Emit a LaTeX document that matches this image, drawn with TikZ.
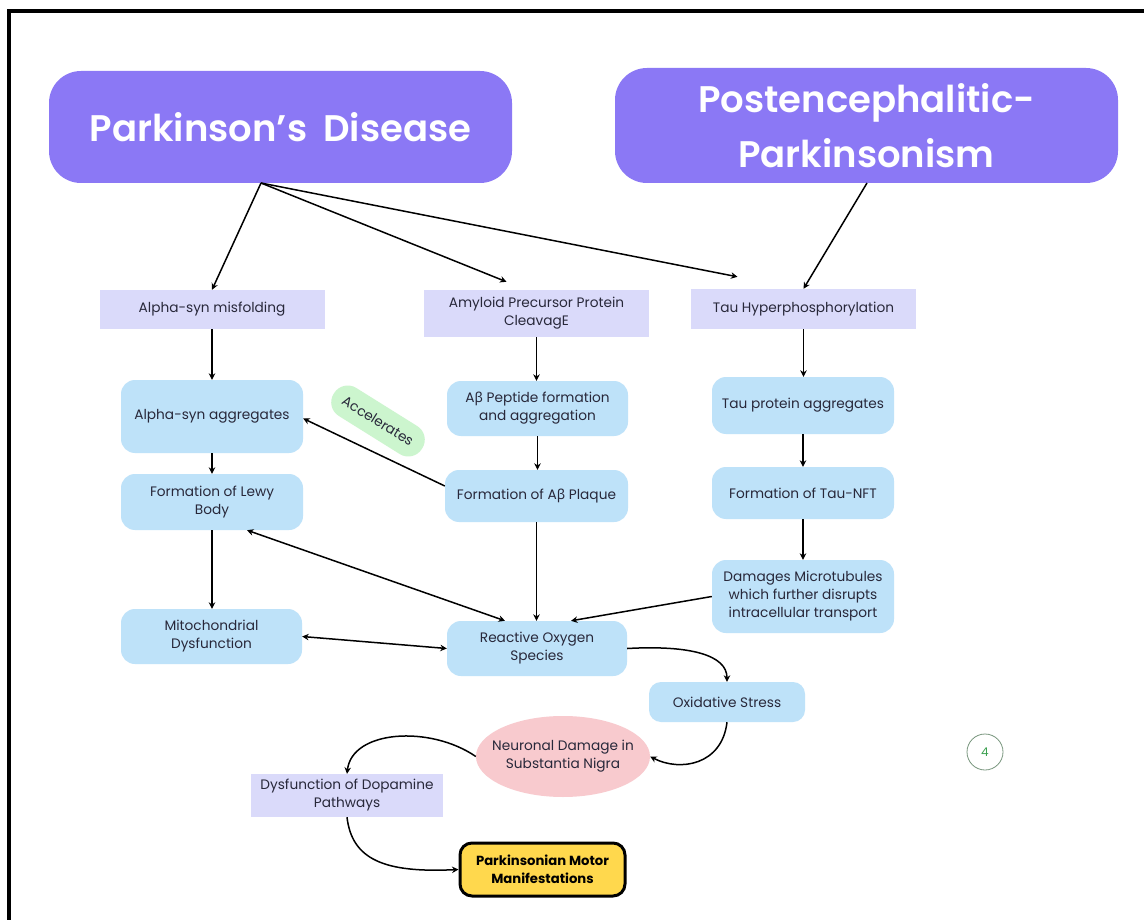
\documentclass[tikz,border=0pt]{standalone}
\usepackage{fontspec}
\setmainfont{Poppins}
\newfontfamily\hdrfam{Poppins}[UprightFont={* SemiBold}]
\newfontfamily\grk{Noto Sans}
\usetikzlibrary{shapes.geometric,arrows.meta,calc}
\definecolor{purp}{RGB}{139,120,245}
\definecolor{lavbox}{RGB}{218,218,250}
\definecolor{bluebox}{RGB}{190,226,249}
\definecolor{greenpill}{RGB}{204,245,206}
\definecolor{pinkel}{RGB}{248,202,206}
\definecolor{yel}{RGB}{255,216,77}
\definecolor{ink}{RGB}{40,40,58}
\definecolor{numgreen}{RGB}{60,160,80}
\definecolor{ringgray}{RGB}{120,150,125}
\newcommand{\bet}{{\grk β}}
\tikzset{
  txt/.style={text=ink, font=\fontsize{13.7}{18}\selectfont, align=center, inner sep=0pt},
  lav/.style={txt, fill=lavbox, rectangle},
  blu/.style={txt, fill=bluebox, rounded corners=14},
  hdrbox/.style={fill=purp, rounded corners=32, text=white, font=\hdrfam\fontsize{37}{55}\selectfont, align=center, inner sep=0pt},
  arr/.style={-{Stealth[length=6.5pt,width=6.5pt]}, line width=1.5pt, draw=black},
  darr/.style={{Stealth[length=6.5pt,width=6.5pt]}-{Stealth[length=6.5pt,width=6.5pt]}, line width=1.5pt, draw=black},
}
\begin{document}
\begin{tikzpicture}[x=1pt,y=-1pt]
\useasboundingbox (0,0) rectangle (1144,920);
\fill[white] (0,0) rectangle (1144,920);
\draw[line width=4pt] (9,922) -- (9,11) -- (1146,11);

% headers
\node[hdrbox, minimum width=463, minimum height=112] (pd) at (280.5,127) {Parkinson’s\hspace{0.2em} Disease};
\node[hdrbox, minimum width=503, minimum height=115] (ppp) at (866.5,125.5) {Postencephalitic-\\Parkinsonism};

% first row
\node[lav, minimum width=225, minimum height=39] (ms) at (212,309.5) {Alpha-syn misfolding};
\node[lav, minimum width=225, minimum height=47] (app) at (536.5,313.5) {Amyloid Precursor Protein\\CleavagE};
\node[lav, minimum width=225, minimum height=40] (th) at (803.5,309) {Tau Hyperphosphorylation};

% second row
\node[blu, minimum width=182, minimum height=73] (asa) at (212,416.5) {Alpha-syn aggregates};
\node[blu, minimum width=181, minimum height=55] (abp) at (537.5,408.5) {A\bet{} Peptide formation\\and aggregation};
\node[blu, minimum width=182, minimum height=57] (tpa) at (803,405.5) {Tau protein aggregates};

% third row
\node[blu, minimum width=182, minimum height=56] (lb) at (212,502) {Formation of Lewy\\Body};
\node[blu, minimum width=183, minimum height=52] (pl) at (536.5,496) {Formation of A\bet{} Plaque};
\node[blu, minimum width=182, minimum height=52] (nft) at (803,493) {Formation of Tau-NFT};

\node[blu, minimum width=182, minimum height=73] (dm) at (803,596.5) {Damages Microtubules\\which further disrupts\\intracellular transport};
\node[blu, minimum width=181, minimum height=55] (mito) at (211.5,636.5) {Mitochondrial\\Dysfunction};
\node[blu, minimum width=180, minimum height=55] (ros) at (537,648.5) {Reactive Oxygen\\Species};
\node[blu, rounded corners=12, minimum width=156, minimum height=40] (ox) at (727,702) {Oxidative Stress};
\node[txt, ellipse, fill=pinkel, inner sep=-10pt, minimum width=174, minimum height=81] (ne) at (563,756.5) {Neuronal Damage in\\Substantia Nigra};
\node[lav, minimum width=192, minimum height=43] (dd) at (347,795.5) {Dysfunction of Dopamine\\Pathways};
\node[txt, font=\bfseries\fontsize{13.2}{18}\selectfont, text=black, fill=yel, draw=black, line width=3pt, rounded corners=12, minimum width=165, minimum height=53] (pmm) at (542.5,869.5) {Parkinsonian Motor\\Manifestations};

\node[txt, fill=greenpill, rounded corners=16, minimum width=104, minimum height=33, rotate=-32] (acc) at (378,421) {Accelerates};
\node[circle, draw=ringgray, line width=0.8pt, minimum size=36, inner sep=0pt, text=numgreen, font=\fontsize{12}{14}\selectfont] (four) at (985,752) {4};

% connectors
\coordinate (pdo) at (261,183);
\coordinate (pppo) at (867,183);
\draw[arr] (pdo) -- (ms.north);
\draw[arr] (pdo) -- ([xshift=-30pt,yshift=8pt]app.north);
\draw[arr] (pdo) -- ([xshift=-66pt,yshift=12pt]th.north);
\draw[arr] (pppo) -- (th.north);

\draw[arr] (ms.south) -- (asa.north);
\draw[arr] (app.south) -- (app.south |- abp.north);
\draw[arr] (th.south) -- (th.south |- tpa.north);
\draw[arr] (asa.south) -- (lb.north);
\draw[arr] (abp.south) -- (abp.south |- pl.north);
\draw[arr] (tpa.south) -- (nft.north);
\draw[arr] (nft.south) -- (dm.north);
\draw[arr] (lb.south) -- (lb.south |- mito.north);
\draw[arr] (pl.south) -- (pl.south |- ros.north);
\draw[arr] (dm.west) -- ([xshift=34pt]ros.north);
\draw[darr] ([xshift=35pt]lb.south) -- ([xshift=-32pt]ros.north);
\draw[darr] (mito.east) -- (ros.west);
\draw[arr] ([yshift=10pt]pl.west) -- ([yshift=-2pt]asa.east);

\draw[arr] (ros.east) .. controls (690,645) and (727,655) .. (ox.north);
\draw[arr] (ox.south) .. controls (722,765) and (680,772) .. (ne.east);
\draw[arr] (ne.west) .. controls (430,725) and (352,730) .. (dd.north);
\draw[arr] (dd.south) .. controls (352,860) and (385,873) .. (pmm.west);
\end{tikzpicture}
\end{document}
